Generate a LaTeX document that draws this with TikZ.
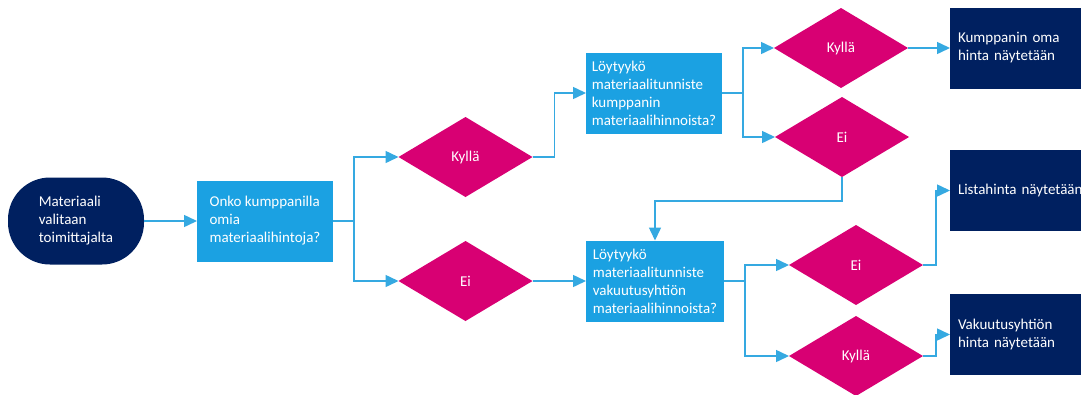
\documentclass[tikz,border=0pt]{standalone}
\usepackage{fontspec}
\setmainfont{Carlito}
\usepackage{tikz}
\usetikzlibrary{arrows.meta,positioning,shapes.geometric}
\definecolor{navy}{HTML}{002060}
\definecolor{azure}{HTML}{1BA1E2}
\definecolor{berry}{HTML}{D80073}
\definecolor{wire}{HTML}{35A9E1}

\begin{document}
\begin{tikzpicture}[x=1pt,y=-1pt,
    txt/.style={text=white,font=\fontsize{15}{18}\selectfont,outer sep=0pt},
    startbox/.style={txt,fill=navy,rounded corners=42pt,minimum width=136pt,minimum height=87pt,align=left},
    askbox/.style={txt,fill=azure,minimum width=136pt,minimum height=81pt,align=left,inner sep=0pt},
    choice/.style={txt,fill=berry,diamond,inner sep=0pt,minimum width=134pt,minimum height=80pt},
    endbox/.style={txt,fill=navy,anchor=west,text width=140pt,minimum height=81pt,inner xsep=8pt,align=left},
    flow/.style={wire,line width=1.5pt,-{Triangle[length=13pt,width=12pt]}}]
  \useasboundingbox (0,0) rectangle (1081,394);
  \clip (0,0) rectangle (1081,394);
  % nodes
  \node[startbox] (start) at (76,221) {Materiaali\\valitaan\\toimittajalta};
  \node[askbox] (q1) at (265,221) {Onko kumppanilla\\omia\\materiaalihintoja?};
  \node[choice] (kyl1) at (465.5,157) {Kyllä};
  \node[choice] (ei1) at (465.5,281) {Ei};
  \node[askbox] (q2) at (654,93) {Löytyykö\\materiaalitunniste\\kumppanin\\materiaalihinnoista?};
  \node[askbox,minimum width=138pt] (q3) at (655,281) {Löytyykö\\materiaalitunniste\\vakuutusyhtiön\\materiaalihinnoista?};
  \node[choice] (kyl2) at (841,48) {Kyllä};
  \node[choice] (ei2) at (842,137) {Ei};
  \node[choice] (ei3) at (856,265) {Ei};
  \node[choice] (kyl3) at (856,356) {Kyllä};
  \node[endbox] (own) at (950,48) {Kumppanin oma\\hinta näytetään};
  \node[endbox] (list) at (950,190.5) {Listahinta näytetään};
  \node[endbox] (ins) at (950,334.5) {Vakuutusyhtiön\\hinta näytetään};
  % connectors
  \draw[flow] (start) -- (q1);
  \foreach \t in {kyl1,ei1}{\draw[flow] (q1.east) -- ++(21,0) |- (\t.west);}
  \draw[flow] (kyl1.east) -- ++(22,0) |- (q2.west);
  \draw[flow] (ei1.east) -- (q3.west);
  \foreach \t in {kyl2,ei2}{\draw[flow] (q2.east) -- ++(21,0) |- (\t.west);}
  \draw[flow] (kyl2.east) -- (own.west);
  \draw[flow] (ei2.south) -- ++(0,24) -| (q3.north);
  \foreach \t in {ei3,kyl3}{\draw[flow] (q3.east) -- ++(21,0) |- (\t.west);}
  \draw[flow] (ei3.east) -- ++(13,0) |- (list.west);
  \draw[flow] (kyl3.east) -- ++(13,0) |- (ins.west);
\end{tikzpicture}
\end{document}
